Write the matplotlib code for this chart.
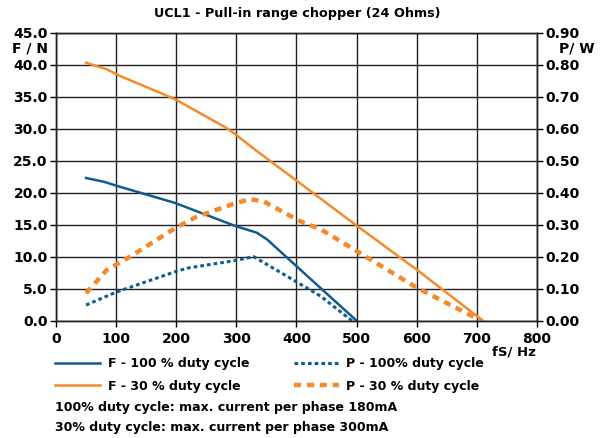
import numpy as np
import matplotlib
matplotlib.use("Agg")
import matplotlib.pyplot as plt

plt.rcParams['font.family'] = ['DejaVu Sans']
plt.rcParams['font.weight'] = 'bold'

# F - 100 % duty cycle (N)
f100_hz = [50, 80, 100, 198, 298, 334, 351, 440, 500]
f100_n = [22.3, 21.7, 21.1, 18.4, 14.8, 13.75, 12.7, 5.1, 0.0]

# F - 30 % duty cycle (N)
f30_hz = [50, 84, 110, 176, 198, 282, 296, 334, 407, 498, 601, 710]
f30_n = [40.3, 39.3, 38.1, 35.5, 34.6, 30.2, 29.3, 26.5, 21.4, 15.0, 7.9, 0.0]

# P - 100 % duty cycle (W)
p100_hz = [50, 101, 198, 218, 257, 298, 329, 440, 492]
p100_w = [0.049, 0.090, 0.153, 0.164, 0.176, 0.188, 0.200, 0.077, 0.0]

# P - 30 % duty cycle (W)
p30_hz = [50, 84, 123, 198, 234, 298, 323, 346, 407, 440, 498, 601, 695, 705]
p30_w = [0.086, 0.158, 0.200, 0.289, 0.325, 0.367, 0.380, 0.372, 0.310, 0.286, 0.220, 0.102, 0.012, 0.0]

x_ticks = np.arange(0, 801, 100)
f_ticks = np.arange(0, 45.1, 5)
p_ticks = np.arange(0, 0.91, 0.1)

blue = '#0f5c8e'
orange = '#f58a2a'
fs = 9

fig = plt.figure(figsize=(6.02, 4.38), dpi=100)
ax = fig.add_axes([56 / 602, 1 - 320.7 / 438, 481 / 602, 288 / 438])
ax2 = ax.twinx()

l1, = ax.plot(f100_hz, f100_n, color=blue, lw=1.8)
l2, = ax.plot(f30_hz, f30_n, color=orange, lw=1.8)
l3, = ax2.plot(p100_hz, p100_w, color=blue, lw=2.2, linestyle=(0, (1.2, 1.0)))
l4, = ax2.plot(p30_hz, p30_w, color=orange, lw=3.2, linestyle=(0, (1.6, 1.3)))

ax.set_xlim(0, 800)
ax.set_ylim(0, 45)
ax2.set_ylim(0, 0.9)
ax.set_xticks(x_ticks)
ax.set_yticks(f_ticks)
ax2.set_yticks(p_ticks)
ax.set_yticklabels([f"{v:.1f}" for v in f_ticks])
ax2.set_yticklabels([f"{v:.2f}" for v in p_ticks])
ax.grid(True, color='#222222', lw=1.0)
ax.set_axisbelow(True)

for a in (ax, ax2):
    a.tick_params(labelsize=fs + 1, length=4, width=1, pad=2)
    for s in a.spines.values():
        s.set_linewidth(1.0)
        s.set_color('#222222')
ax.tick_params(axis='x', pad=4)

fig.text(297 / 602, 1 - 14 / 438, "UCL1 - Pull-in range chopper (24 Ohms)",
         fontsize=fs + 0.2, ha='center', va='center')
fig.text(30 / 602, 1 - 48 / 438, "F / N", fontsize=fs + 1, ha='center', va='center')
fig.text(577 / 602, 1 - 48 / 438, "P/ W", fontsize=fs + 1, ha='center', va='center')
fig.text(514 / 602, 1 - 352 / 438, "fS/ Hz", fontsize=fs + 0.5, ha='center', va='center')

fig.legend([l1, l2, l3, l4],
           ["F - 100 % duty cycle", "F - 30 % duty cycle",
            "P - 100% duty cycle", "P - 30 % duty cycle"],
           ncol=2, loc='upper left', bbox_to_anchor=(55 / 602, 1 - 357 / 438),
           frameon=False, fontsize=fs, handlelength=3.6, handletextpad=0.6,
           columnspacing=3.6, labelspacing=0.78, borderpad=0, borderaxespad=0)

fig.text(55 / 602, 1 - 408 / 438, "100% duty cycle: max. current per phase 180mA",
         fontsize=fs, va='center')
fig.text(55 / 602, 1 - 428 / 438, "30% duty cycle: max. current per phase 300mA",
         fontsize=fs, va='center')

fig.savefig("out.png", dpi=100)
